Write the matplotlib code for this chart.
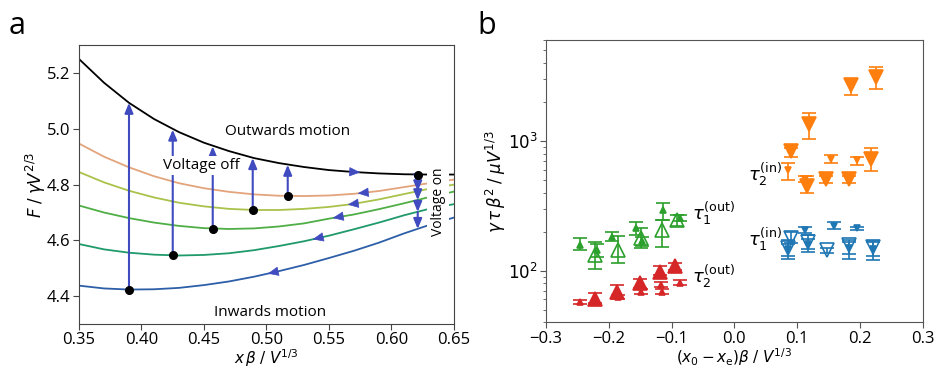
import matplotlib
matplotlib.use('Agg')
import matplotlib.pyplot as plt
import numpy as np

plt.rcParams['font.family'] = ['Open Sans', 'DejaVu Sans']
plt.rcParams['mathtext.fontset'] = 'dejavusans'

# ---- panel a: energy curves ----
x_grid = [0.35, 0.37, 0.39, 0.41, 0.43, 0.45, 0.47, 0.49, 0.51, 0.53,
          0.55, 0.57, 0.59, 0.61, 0.63, 0.65]
F_black = [5.250, 5.165, 5.093, 5.035, 4.988, 4.950, 4.920, 4.895, 4.877, 4.863,
           4.852, 4.845, 4.840, 4.837, 4.836, 4.836]
F_orange = [4.947, 4.900, 4.862, 4.830, 4.805, 4.787, 4.774, 4.765, 4.760, 4.759,
            4.761, 4.767, 4.777, 4.791, 4.805, 4.818]
F_yellow = [4.845, 4.808, 4.778, 4.754, 4.735, 4.722, 4.713, 4.709, 4.709, 4.713,
            4.720, 4.731, 4.747, 4.766, 4.785, 4.800]
F_green = [4.725, 4.700, 4.680, 4.664, 4.652, 4.644, 4.641, 4.643, 4.650, 4.661,
           4.678, 4.693, 4.712, 4.733, 4.755, 4.775]
F_teal = [4.587, 4.568, 4.556, 4.549, 4.546, 4.548, 4.554, 4.565, 4.580, 4.597,
          4.617, 4.640, 4.664, 4.690, 4.713, 4.730]
F_blue = [4.438, 4.428, 4.424, 4.425, 4.430, 4.440, 4.453, 4.470, 4.490, 4.512,
          4.537, 4.563, 4.592, 4.625, 4.655, 4.682]
curves = [F_black, F_orange, F_yellow, F_green, F_teal, F_blue]
curve_colors = ['black', '#e3a47c', '#a9c24a', '#4fae45', '#1f9a6a', '#2d5ea8']

# "voltage off" jumps: minimum dots up to black curve
off_x = [0.390, 0.425, 0.457, 0.489, 0.517]
off_lo = [4.424, 4.546, 4.640, 4.709, 4.759]
off_hi = [5.093, 4.997, 4.937, 4.895, 4.871]
# "voltage on" cascade at the black minimum
on_x = 0.621
on_levels = [4.836, 4.798, 4.776, 4.744, 4.702, 4.641]
# direction arrowheads on each curve (x, +1 right / -1 left)
dir_x = [0.575, 0.573, 0.565, 0.553, 0.537, 0.501]
dir_sign = [1, -1, -1, -1, -1, -1]

# ---- panel b: relaxation times ----
gL_x = [-0.222, -0.186, -0.148, -0.116, -0.092]
gL_y = [132, 145, 180, 206, 245]
gL_lo = [103, 114, 149, 153, 222]
gL_hi = [167, 185, 212, 245, 268]
gS_x = [-0.246, -0.219, -0.195, -0.156, -0.147, -0.113, -0.086]
gS_y = [158, 144, 183, 212, 170, 293, 253]
gS_lo = [144, 128, 168, 190, 155, 245, 240]
gS_hi = [177, 160, 200, 238, 182, 330, 270]

rL_x = [-0.222, -0.187, -0.150, -0.119, -0.094]
rL_y = [61, 69, 80, 98, 108]
rL_lo = [56, 62, 73, 92, 101]
rL_hi = [67, 77, 87, 108, 114]
rS_x = [-0.246, -0.186, -0.148, -0.117, -0.115, -0.086]
rS_y = [57, 63, 69, 78, 69, 81]
rS_lo = [55, 61, 66, 75, 66, 78]
rS_hi = [59, 65, 72, 82, 72, 84]

oL_x = [0.091, 0.1195, 0.186, 0.226, 0.115, 0.146, 0.182, 0.218]
oL_y = [830, 1360, 2680, 3100, 450, 505, 510, 720]
oL_lo = [755, 1030, 2250, 2530, 395, 478, 475, 590]
oL_hi = [890, 1650, 3000, 3700, 535, 535, 540, 880]
oS_x = [0.086, 0.113, 0.154, 0.196]
oS_y = [600, 505, 731, 710]
oS_lo = [500, 480, 677, 650]
oS_hi = [680, 535, 776, 753]

bL_x = [0.086, 0.091, 0.118, 0.147, 0.183, 0.221]
bL_y = [150, 180, 167, 144, 157, 151]
bL_lo = [124, 162, 140, 137, 122, 121]
bL_hi = [172, 200, 188, 150, 172, 168]
bS_x = [0.086, 0.1125, 0.118, 0.158, 0.183, 0.196, 0.221]
bS_y = [146, 206, 160, 221, 150, 212, 148]
bS_lo = [130, 194, 148, 208, 135, 205, 130]
bS_hi = [160, 218, 175, 238, 165, 218, 165]

arrow_col = '#3f4bbf'

fig = plt.figure(figsize=(9.37, 3.69), dpi=100)
axa = fig.add_axes([0.0843, 0.1215, 0.4002, 0.7565])
axb = fig.add_axes([0.5827, 0.1266, 0.402, 0.765])

# ---------------- panel a ----------------
for F, c in zip(curves, curve_colors):
    axa.plot(x_grid, F, color=c, lw=1.3, zorder=2)

head = '-|>,head_length=0.6,head_width=0.25'
for x, lo, hi in zip(off_x, off_lo, off_hi):
    axa.annotate('', xy=(x, hi), xytext=(x, lo),
                 arrowprops=dict(arrowstyle=head, color=arrow_col, lw=1.5,
                                 shrinkA=0, shrinkB=0), zorder=3)
    axa.plot(x, lo, 'o', color='black', ms=5.5, zorder=5)

for a, b in zip(on_levels[:-1], on_levels[1:]):
    axa.annotate('', xy=(on_x, b), xytext=(on_x, a),
                 arrowprops=dict(arrowstyle=head, color=arrow_col, lw=1.5,
                                 shrinkA=0, shrinkB=0), zorder=3)
axa.plot(on_x, on_levels[0], 'o', color='black', ms=5.5, zorder=5)

for F, xa, s in zip(curves, dir_x, dir_sign):
    ya = np.interp(xa, x_grid, F)
    dx = 0.006
    slope = (np.interp(xa + dx, x_grid, F) - np.interp(xa - dx, x_grid, F)) / (2 * dx)
    axa.annotate('', xy=(xa, ya), xytext=(xa - s * 0.004, ya - s * slope * 0.004),
                 arrowprops=dict(arrowstyle='-|>,head_length=0.7,head_width=0.3',
                                 color=arrow_col, lw=0.5, shrinkA=0, shrinkB=0), zorder=4)

axa.text(0.517, 4.99, 'Outwards motion', ha='center', va='center', fontsize=11)
axa.text(0.503, 4.343, 'Inwards motion', ha='center', va='center', fontsize=11)
axa.text(0.448, 4.868, 'Voltage off', ha='center', va='center', fontsize=11, zorder=6,
         bbox=dict(fc='white', ec='none', pad=1.5))
axa.text(0.6375, 4.738, 'Voltage on', ha='center', va='center', fontsize=10,
         rotation=90, zorder=6, bbox=dict(fc='white', ec='none', pad=2.5))

axa.set_xlim(0.35, 0.65)
axa.set_ylim(4.3, 5.3)
axa.set_xticks([0.35, 0.40, 0.45, 0.50, 0.55, 0.60, 0.65])
axa.set_xticklabels(['0.35', '0.40', '0.45', '0.50', '0.55', '0.60', '0.65'])
axa.set_yticks([4.4, 4.6, 4.8, 5.0, 5.2])
axa.tick_params(labelsize=12, length=4, color='#444', pad=2)
axa.set_xlabel(r'$x\,\beta\;/\;V^{1/3}$', fontsize=11, labelpad=-1)
axa.set_ylabel(r'$F\;/\;\gamma V^{2/3}$', fontsize=12, labelpad=-1)
for sp in axa.spines.values():
    sp.set_color('#444')

# ---------------- panel b ----------------
eb = dict(capsize=5, elinewidth=1.2, capthick=1.2, ls='none')


def draw(ax, x, y, lo, hi, color, marker, ms, filled):
    yerr = [np.array(y) - np.array(lo), np.array(hi) - np.array(y)]
    ax.errorbar(x, y, yerr=yerr, color=color, marker=marker, ms=ms,
                mfc=color if filled else 'none', mec=color, mew=1.2, **eb)


draw(axb, gS_x, gS_y, gS_lo, gS_hi, '#2ca02c', '^', 4.5, True)
draw(axb, gL_x, gL_y, gL_lo, gL_hi, '#2ca02c', '^', 10, False)
draw(axb, rS_x, rS_y, rS_lo, rS_hi, '#d62728', '^', 4.5, True)
draw(axb, rL_x, rL_y, rL_lo, rL_hi, '#d62728', '^', 10, True)
draw(axb, oS_x, oS_y, oS_lo, oS_hi, '#ff7f0e', 'v', 4.5, True)
draw(axb, oL_x, oL_y, oL_lo, oL_hi, '#ff7f0e', 'v', 10, True)
draw(axb, bS_x, bS_y, bS_lo, bS_hi, '#1f77b4', 'v', 4.5, True)
draw(axb, bL_x, bL_y, bL_lo, bL_hi, '#1f77b4', 'v', 10, False)

axb.text(-0.068, 276, r'$\tau_1^{(\mathrm{out})}$', fontsize=13, va='center')
axb.text(-0.068, 90, r'$\tau_2^{(\mathrm{out})}$', fontsize=13, va='center')
axb.text(0.022, 548, r'$\tau_2^{(\mathrm{in})}$', fontsize=13, va='center')
axb.text(0.022, 174, r'$\tau_1^{(\mathrm{in})}$', fontsize=13, va='center')

axb.set_yscale('log')
axb.set_xlim(-0.3, 0.3)
axb.set_ylim(40, 6000)
axb.set_xticks([-0.3, -0.2, -0.1, 0.0, 0.1, 0.2, 0.3])
axb.set_xticklabels(['\u22120.3', '\u22120.2', '\u22120.1', '0.0', '0.1', '0.2', '0.3'])
axb.set_yticks([100, 1000])
axb.set_yticklabels([r'$10^2$', r'$10^3$'])
axb.tick_params(labelsize=12, length=4, color='#555', pad=2)
axb.tick_params(which='minor', length=2, color='#555')
axb.set_xlabel(r'$(x_0 - x_\mathrm{e})\beta\;/\;V^{1/3}$', fontsize=11, labelpad=0)
axb.set_ylabel(r'$\gamma\,\tau\,\beta^2\;/\;\mu V^{1/3}$', fontsize=12, labelpad=0)
for sp in axb.spines.values():
    sp.set_color('#555')

fig.text(0.018, 0.93, 'a', fontsize=22, va='center', ha='center')
fig.text(0.520, 0.93, 'b', fontsize=22, va='center', ha='center')

fig.savefig('out.png', dpi=100)
